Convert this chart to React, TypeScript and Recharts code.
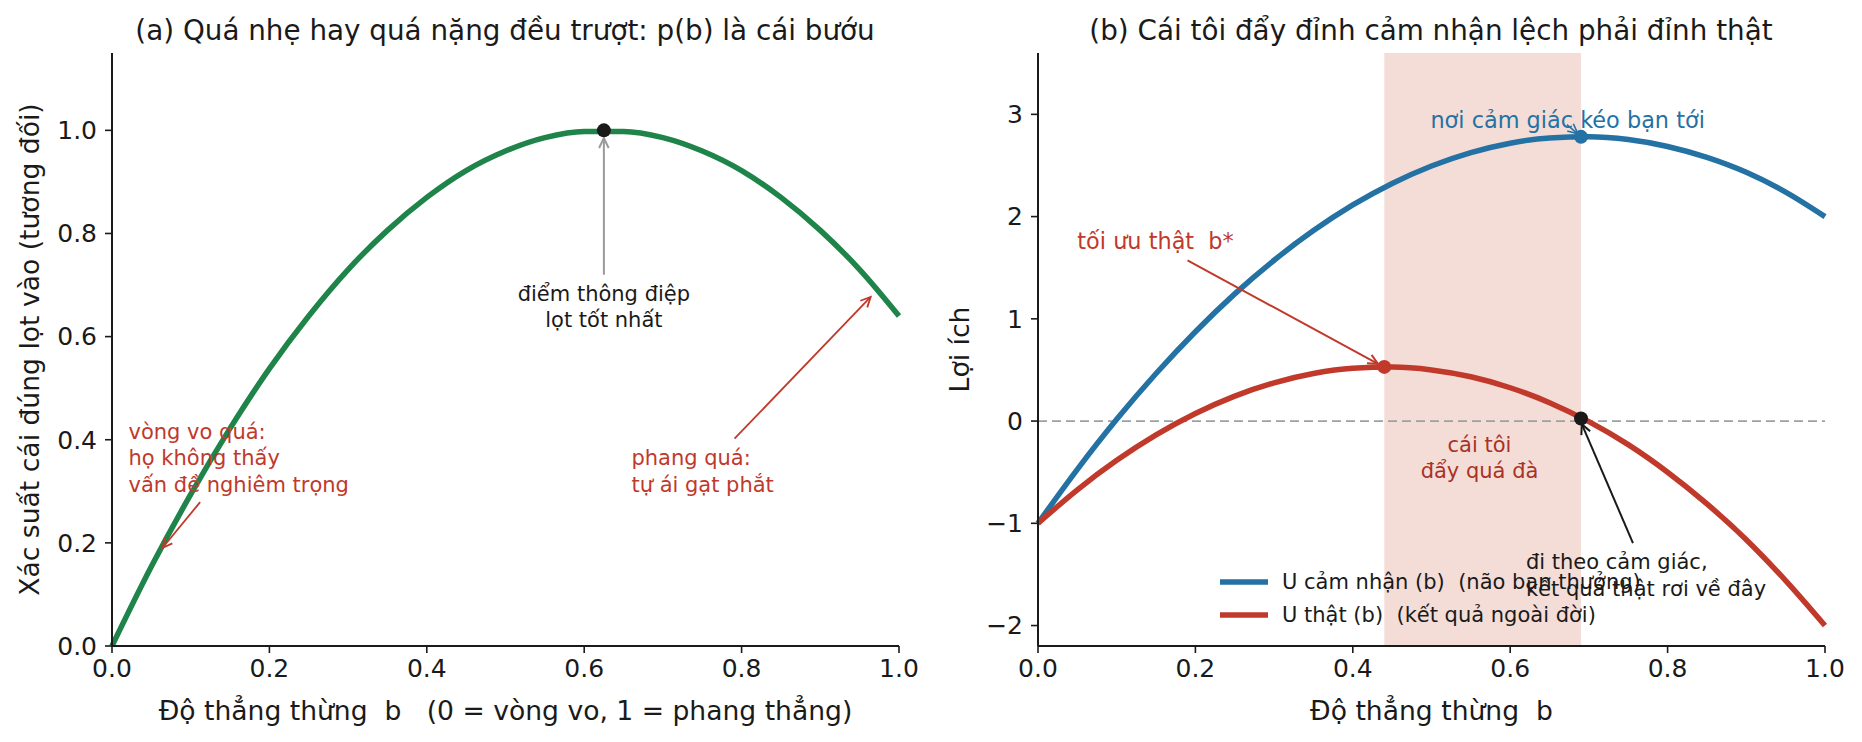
import React from 'react'
import { LineChart, Line, XAxis, YAxis, ReferenceLine, ReferenceDot, ReferenceArea } from 'recharts'

const FONT = '"DejaVu Sans", sans-serif'
const GREEN = '#1e8449'
const BLUE = '#2471a3'
const RED = '#c0392b'
const EGO = '#a93226'
const INK = '#1a1a1a'

// độ thẳng thừng b, đọc tại các mốc 0.05
const bGrid = [0, 0.05, 0.1, 0.15, 0.2, 0.25, 0.3, 0.35, 0.4, 0.45, 0.5, 0.55, 0.6, 0.65, 0.7, 0.75, 0.8, 0.85, 0.9, 0.95, 1.0]
// (a) xác suất lọt vào
const pHit = [0, 0.154, 0.294, 0.422, 0.538, 0.64, 0.73, 0.806, 0.87, 0.922, 0.96, 0.986, 0.998, 0.998, 0.986, 0.96, 0.922, 0.87, 0.806, 0.73, 0.64]
// (b) lợi ích cảm nhận / thật
const uFelt = [-1, -0.472, 0.017, 0.465, 0.874, 1.244, 1.573, 1.863, 2.114, 2.324, 2.495, 2.626, 2.718, 2.769, 2.781, 2.754, 2.686, 2.579, 2.433, 2.24, 2.0]
const uReal = [-1, -0.672, -0.384, -0.135, 0.074, 0.244, 0.374, 0.465, 0.516, 0.528, 0.5, 0.433, 0.326, 0.18, -0.006, -0.231, -0.5, -0.81, -1.16, -1.56, -2.0]

const xTicks = [0, 0.2, 0.4, 0.6, 0.8, 1.0]
const pTicks = [0, 0.2, 0.4, 0.6, 0.8, 1.0]
const uTicks = [-2, -1, 0, 1, 2, 3]

const seriesNames = ['U cảm nhận (b)  (não bạn thưởng)', 'U thật (b)  (kết quả ngoài đời)']

const bestP = { b: 0.625, p: 1.0 }
const feltPeak = { b: 0.69, u: 2.78 }
const realPeak = { b: 0.44, u: 0.53 }
const landing = { b: 0.69, u: 0.025 }
const egoBand = [0.44, 0.69]

const leftData = bGrid.map((b, i) => ({ b, p: pHit[i] }))
const rightData = bGrid.map((b, i) => ({ b, felt: uFelt[i], real: uReal[i] }))

const nb = (s: string) => s.replace(/ /g, '\u00a0')
const fmt1 = (v: number) => v.toFixed(1)
const fmtInt = (v: number) => (v < 0 ? '\u2212' + Math.abs(v) : String(v))

function noteShape(lines: string[], color: string, anchor: 'start' | 'middle', size = 21) {
  return (props: any) => (
    <text x={props.cx} y={props.cy} fill={color} fontSize={size} fontFamily={FONT} textAnchor={anchor} style={{ whiteSpace: 'pre' }}>
      {lines.map((l, i) => (
        <tspan key={i} x={props.cx} dy={i === 0 ? '0.35em' : 26.5}>{l}</tspan>
      ))}
    </text>
  )
}

function arrowShape(color: string, w = 1.8) {
  return (props: any) => {
    const { x1, y1, x2, y2 } = props
    const a = Math.atan2(y2 - y1, x2 - x1)
    const L = 11
    const s = 0.45
    const ax = x2 - L * Math.cos(a - s)
    const ay = y2 - L * Math.sin(a - s)
    const bx = x2 - L * Math.cos(a + s)
    const by = y2 - L * Math.sin(a + s)
    return (
      <g>
        <line x1={x1} y1={y1} x2={x2} y2={y2} stroke={color} strokeWidth={w} />
        <path d={`M${ax},${ay}L${x2},${y2}L${bx},${by}`} fill="none" stroke={color} strokeWidth={w} />
      </g>
    )
  }
}

const tickStyle = { fontSize: 25, fill: INK, fontFamily: FONT }
const axisLabel = { fontSize: 26.6, fill: INK, fontFamily: FONT }

function LeftPanel() {
  return (
    <LineChart width={931} height={742} data={leftData} margin={{ top: 53, right: 32, bottom: 0, left: 0 }}>
      <XAxis
        dataKey="b" type="number" domain={[0, 1]} ticks={xTicks} tickFormatter={fmt1}
        height={96} tickSize={7} tickMargin={6} tick={tickStyle}
        axisLine={{ stroke: INK, strokeWidth: 2 }} tickLine={{ stroke: INK, strokeWidth: 1.6 }}
        label={{ value: nb('Độ thẳng thừng  b   (0 = vòng vo, 1 = phang thẳng)'), position: 'insideBottom', offset: 22, style: axisLabel }}
      />
      <YAxis
        type="number" domain={[0, 1.15]} ticks={pTicks} tickFormatter={fmt1}
        width={112} tickSize={7} tickMargin={8} tick={tickStyle}
        axisLine={{ stroke: INK, strokeWidth: 2 }} tickLine={{ stroke: INK, strokeWidth: 1.6 }}
        label={{ value: 'Xác suất cái đúng lọt vào (tương đối)', angle: -90, position: 'insideLeft', offset: 30, style: { ...axisLabel, textAnchor: 'middle' } }}
      />
      <Line dataKey="p" type="monotone" stroke={GREEN} strokeWidth={5.5} dot={false} activeDot={false} isAnimationActive={false} />
      <ReferenceLine segment={[{ x: 0.625, y: 0.72 }, { x: 0.625, y: 0.985 }]} shape={arrowShape('#9a9a9a', 2)} />
      <ReferenceLine segment={[{ x: 0.112, y: 0.279 }, { x: 0.064, y: 0.19 }]} shape={arrowShape(RED)} />
      <ReferenceLine segment={[{ x: 0.791, y: 0.402 }, { x: 0.964, y: 0.677 }]} shape={arrowShape(RED)} />
      <ReferenceDot x={bestP.b} y={bestP.p} r={7} fill={INK} stroke="none" />
      <ReferenceDot x={0.625} y={0.684} r={0} shape={noteShape(['điểm thông điệp', 'lọt tốt nhất'], INK, 'middle')} />
      <ReferenceDot x={0.021} y={0.416} r={0} shape={noteShape(['vòng vo quá:', 'họ không thấy', 'vấn đề nghiêm trọng'], RED, 'start')} />
      <ReferenceDot x={0.66} y={0.365} r={0} shape={noteShape(['phang quá:', 'tự ái gạt phắt'], RED, 'start')} />
    </LineChart>
  )
}

function RightPanel() {
  return (
    <LineChart width={931} height={742} data={rightData} margin={{ top: 53, right: 37, bottom: 0, left: 0 }}>
      <ReferenceArea x1={egoBand[0]} x2={egoBand[1]} y1={-2.2} y2={3.6} fill="#f5ddd7" fillOpacity={1} stroke="none" />
      <XAxis
        dataKey="b" type="number" domain={[0, 1]} ticks={xTicks} tickFormatter={fmt1}
        height={96} tickSize={7} tickMargin={6} tick={tickStyle}
        axisLine={{ stroke: INK, strokeWidth: 2 }} tickLine={{ stroke: INK, strokeWidth: 1.6 }}
        label={{ value: nb('Độ thẳng thừng  b'), position: 'insideBottom', offset: 22, style: axisLabel }}
      />
      <YAxis
        type="number" domain={[-2.2, 3.6]} ticks={uTicks} tickFormatter={fmtInt}
        width={107} tickSize={7} tickMargin={8} tick={tickStyle}
        axisLine={{ stroke: INK, strokeWidth: 2 }} tickLine={{ stroke: INK, strokeWidth: 1.6 }}
        label={{ value: 'Lợi ích', angle: -90, position: 'insideLeft', offset: 29, style: { ...axisLabel, textAnchor: 'middle' } }}
      />
      <ReferenceLine y={0} stroke="#9aa1a6" strokeWidth={1.8} strokeDasharray="9 5" />
      <Line dataKey="felt" name={seriesNames[0]} type="monotone" stroke={BLUE} strokeWidth={5.5} dot={false} activeDot={false} isAnimationActive={false} />
      <Line dataKey="real" name={seriesNames[1]} type="monotone" stroke={RED} strokeWidth={5.5} dot={false} activeDot={false} isAnimationActive={false} />
      <ReferenceLine segment={[{ x: 0.672, y: 2.9 }, { x: 0.686, y: 2.81 }]} shape={arrowShape(BLUE, 1.6)} />
      <ReferenceLine segment={[{ x: 0.19, y: 1.571 }, { x: 0.432, y: 0.56 }]} shape={arrowShape(RED, 2)} />
      <ReferenceLine segment={[{ x: 0.756, y: -1.193 }, { x: 0.691, y: -0.03 }]} shape={arrowShape(INK, 2)} />
      <ReferenceDot x={feltPeak.b} y={feltPeak.u} r={7} fill={BLUE} stroke="none" />
      <ReferenceDot x={realPeak.b} y={realPeak.u} r={7} fill={RED} stroke="none" />
      <ReferenceDot x={landing.b} y={landing.u} r={7} fill={INK} stroke="none" />
      <ReferenceDot x={0.673} y={2.94} r={0} shape={noteShape(['nơi cảm giác kéo bạn tới'], BLUE, 'middle', 22.4)} />
      <ReferenceDot x={0.05} y={1.756} r={0} shape={noteShape(['tối ưu thật  b*'], RED, 'start', 22.4)} />
      <ReferenceDot x={0.561} y={-0.228} r={0} shape={noteShape(['cái tôi', 'đẩy quá đà'], EGO, 'middle')} />
      <ReferenceDot x={0.62} y={-1.378} r={0} shape={noteShape(['đi theo cảm giác,', 'kết quả thật rơi về đây'], INK, 'start')} />
    </LineChart>
  )
}

export default function App() {
  const legendColors = [BLUE, RED]
  return (
    <div style={{ position: 'absolute', left: 0, top: 0, width: 1862, height: 742, background: '#fff', fontFamily: FONT }}>
      <div style={{ position: 'absolute', left: 0, top: 0 }}>
        <LeftPanel />
      </div>
      <div style={{ position: 'absolute', left: 931, top: 0 }}>
        <RightPanel />
      </div>
      <svg width={1862} height={742} style={{ position: 'absolute', left: 0, top: 0, pointerEvents: 'none' }}>
        <text x={505} y={40} textAnchor="middle" fontSize={27.8} fill={INK} fontFamily={FONT} style={{ whiteSpace: 'pre' }}>
          (a) Quá nhẹ hay quá nặng đều trượt: p(b) là cái bướu
        </text>
        <text x={1431} y={40} textAnchor="middle" fontSize={27.8} fill={INK} fontFamily={FONT} style={{ whiteSpace: 'pre' }}>
          (b) Cái tôi đẩy đỉnh cảm nhận lệch phải đỉnh thật
        </text>
        {seriesNames.map((name, i) => (
          <g key={name}>
            <line x1={1220} x2={1268} y1={582 + i * 33} y2={582 + i * 33} stroke={legendColors[i]} strokeWidth={5.5} />
            <text x={1282} y={582 + i * 33} dy="0.35em" fontSize={21} fill={INK} fontFamily={FONT} style={{ whiteSpace: 'pre' }}>
              {name}
            </text>
          </g>
        ))}
      </svg>
    </div>
  )
}
